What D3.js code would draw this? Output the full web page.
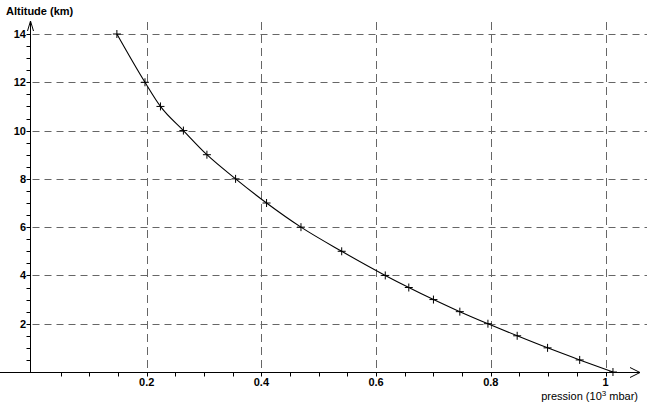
<!DOCTYPE html>
<html><head><meta charset="utf-8">
<script src="https://cdn.jsdelivr.net/npm/d3@7"></script>
<style>
html,body{margin:0;padding:0;background:#fff;}
svg{display:block;}
text{font-family:"Liberation Sans",Arial,sans-serif;font-weight:bold;font-size:11px;fill:#000;}
</style></head>
<body>
<svg id="c" width="647" height="408"></svg>
<script>
// data: pressure (10^3 mbar) vs altitude (km)
const altitudes = [0, 0.5, 1, 1.5, 2, 2.5, 3, 3.5, 4, 5, 6, 7, 8, 9, 10, 11, 12, 14];
const pressures = [1.013, 0.955, 0.899, 0.846, 0.795, 0.746, 0.700, 0.657, 0.616, 0.540, 0.469, 0.409, 0.355, 0.305, 0.264, 0.224, 0.197, 0.148];
const xTickLabels = [0.2, 0.4, 0.6, 0.8, 1];
const yTickLabels = [2, 4, 6, 8, 10, 12, 14];
const xMinorTicks = d3.range(1, 21).map(i => i * 0.05);
const yMinorTicks = d3.range(1, 29).map(i => i * 0.5);

const svg = d3.select("#c");
const x = d3.scaleLinear().domain([0, 1]).range([32, 605.5]);
const y = d3.scaleLinear().domain([0, 14]).range([372, 34]);
const X0 = Math.round(x(0)) - 1.5; // axis line position
const Y0 = Math.round(y(0)) + 0.5;
const px = v => Math.round(x(v)) + 0.5;
const py = v => Math.round(y(v)) + 0.5;

// grid
const g = svg.append("g");
g.selectAll("line.h").data(yTickLabels).join("line")
  .attr("x1", X0 + 2).attr("x2", 647)
  .attr("y1", d => py(d)).attr("y2", d => py(d))
  .attr("stroke", "#666").attr("stroke-width", 1).attr("stroke-dasharray", "7,5");
g.selectAll("line.v").data(xTickLabels).join("line")
  .attr("x1", d => px(d)).attr("x2", d => px(d))
  .attr("y1", 22).attr("y2", Y0)
  .attr("stroke", "#666").attr("stroke-width", 1).attr("stroke-dasharray", "8,5");

// axes
svg.append("line").attr("x1", 0).attr("x2", 640).attr("y1", Y0).attr("y2", Y0)
  .attr("stroke", "#000").attr("stroke-width", 1);
svg.append("path").attr("d", `M630,${Y0-5} L640,${Y0} L630,${Y0+5}`)
  .attr("fill", "none").attr("stroke", "#000");
svg.append("line").attr("x1", X0).attr("x2", X0).attr("y1", Y0).attr("y2", 21)
  .attr("stroke", "#000").attr("stroke-width", 1);
svg.append("path").attr("d", `M${X0-3},31 L${X0},21 L${X0+3},31`)
  .attr("fill", "none").attr("stroke", "#000");

// minor ticks
svg.selectAll("line.xt").data(xMinorTicks).join("line")
  .attr("x1", d => px(d)).attr("x2", d => px(d))
  .attr("y1", Y0).attr("y2", Y0 + 4)
  .attr("stroke", "#000");
svg.selectAll("line.yt").data(yMinorTicks).join("line")
  .attr("x1", X0 - 4).attr("x2", X0)
  .attr("y1", d => py(d)).attr("y2", d => py(d))
  .attr("stroke", "#000");

// tick labels
svg.selectAll("text.xl").data(xTickLabels).join("text")
  .attr("x", d => x(d)).attr("y", 386).attr("text-anchor", "middle")
  .text(d => d3.format("~g")(d));
svg.selectAll("text.yl").data(yTickLabels).join("text")
  .attr("x", 26).attr("y", d => y(d) + 4).attr("text-anchor", "end")
  .text(d => d);

// axis titles
svg.append("text").attr("x", 6).attr("y", 15).text("Altitude (km)");
const t = svg.append("text").attr("x", 638).attr("y", 400).attr("text-anchor", "end")
  .style("font-weight", "normal").style("font-size", "11px");
t.append("tspan").text("pression (10");
t.append("tspan").attr("dy", -4).style("font-size", "8px").text("3");
t.append("tspan").attr("dy", 4).text(" mbar)");

// curve
const pts = pressures.map((p, i) => ({p, a: altitudes[i]}));
const line = d3.line().x(d => x(d.p)).y(d => y(d.a)).curve(d3.curveMonotoneX);
svg.append("path").datum(pts.slice().sort((a, b) => a.p - b.p))
  .attr("d", line).attr("fill", "none").attr("stroke", "#000").attr("stroke-width", 1.1);

// markers
svg.selectAll("path.m").data(pts).join("path")
  .attr("d", d => { const cx = x(d.p), cy = y(d.a); return `M${cx-4},${cy} H${cx+4} M${cx},${cy-4} V${cy+4}`; })
  .attr("stroke", "#000").attr("stroke-width", 1);
</script>
</body></html>
